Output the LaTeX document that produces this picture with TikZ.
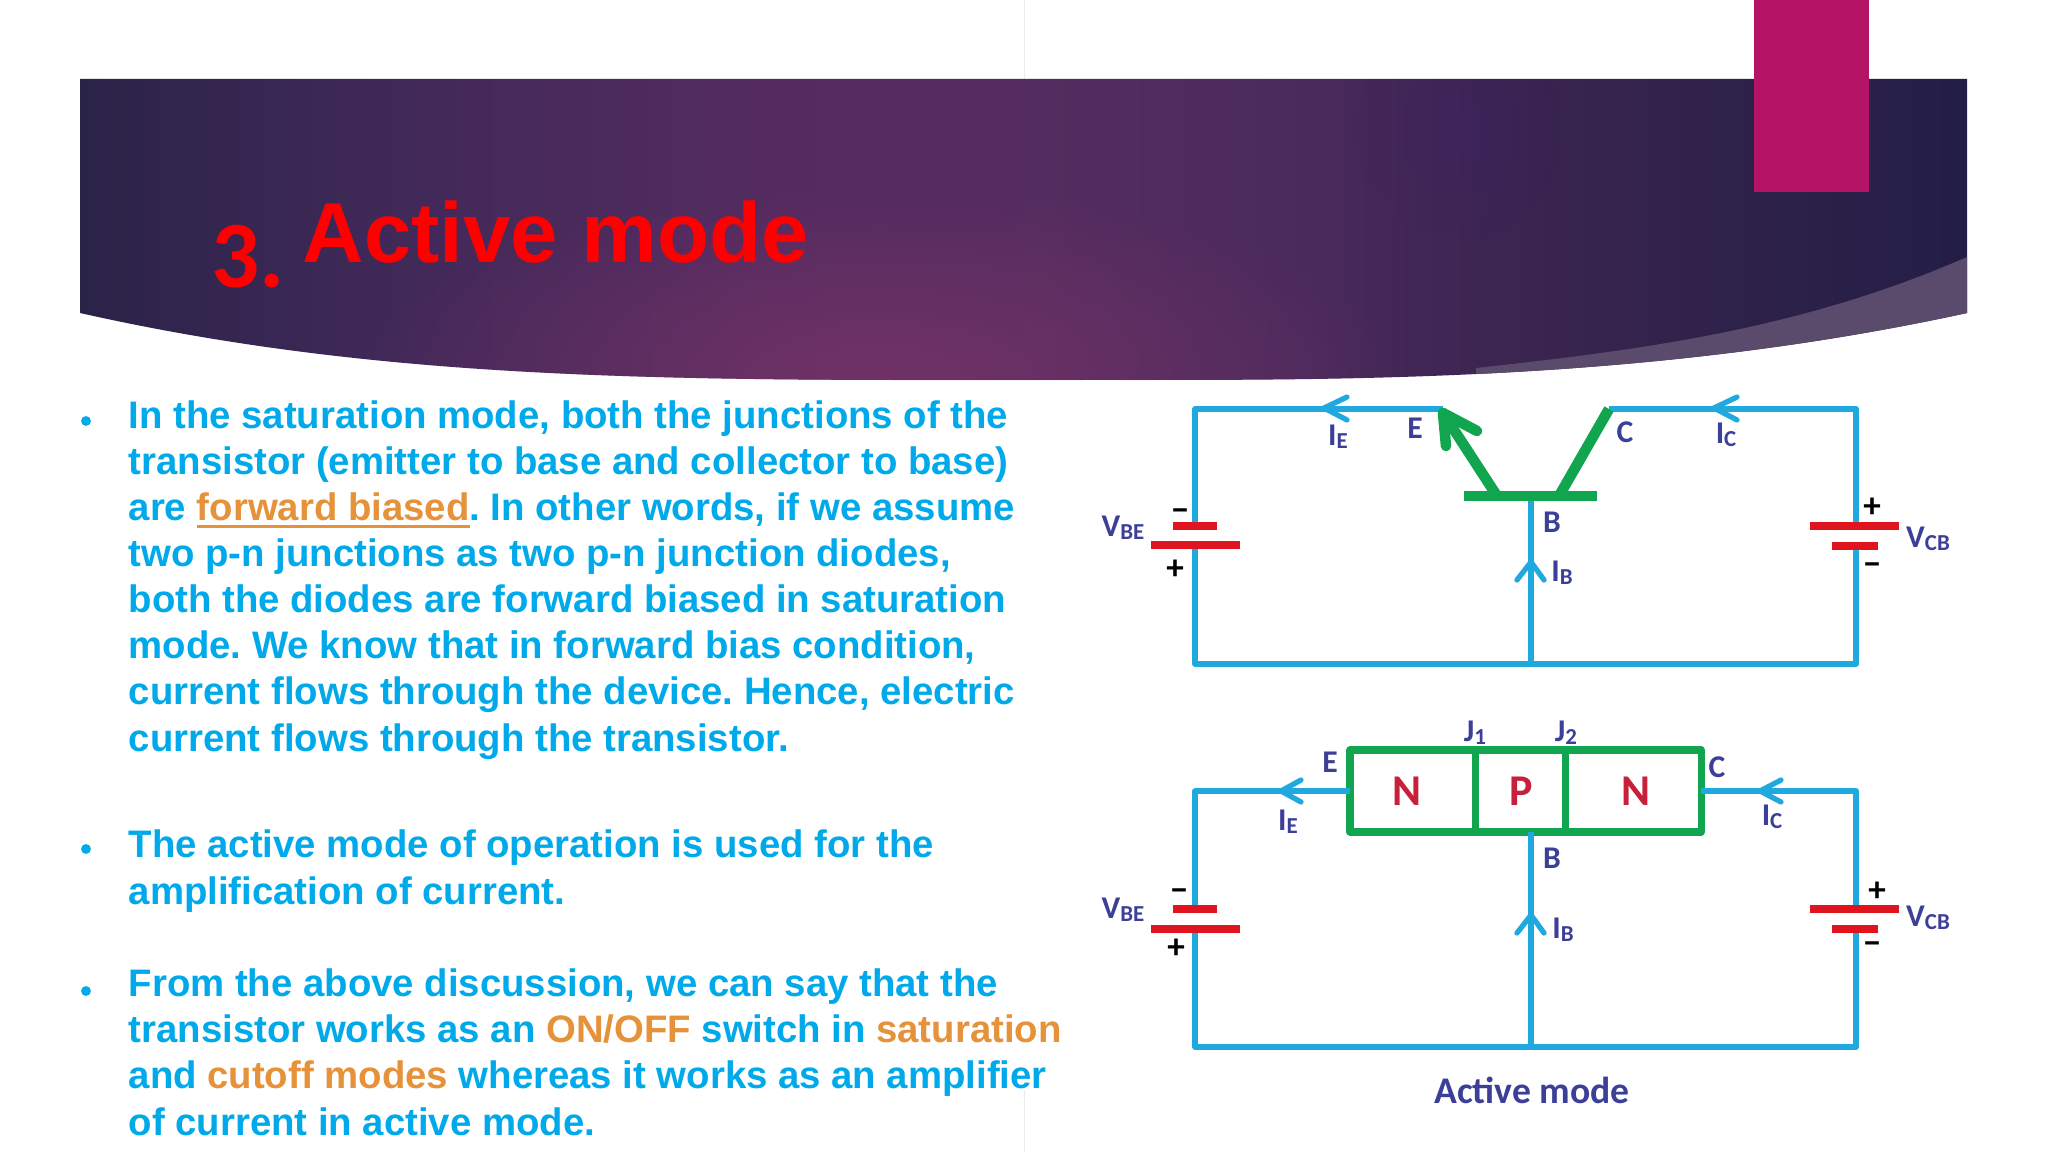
\documentclass[tikz,border=0pt]{standalone}
\usepackage{fontspec}
\setmainfont{Liberation Sans}
\newfontfamily\calfont{Carlito}
\usetikzlibrary{fadings}
\definecolor{textblue}{HTML}{00AAEA}
\definecolor{textorange}{HTML}{E6923A}
\definecolor{wireblue}{HTML}{1FA9DF}
\definecolor{tranred}{HTML}{E0141E}
\definecolor{sliced}{HTML}{C8203A}
\definecolor{trangreen}{HTML}{12A550}
\definecolor{labelblue}{HTML}{3C3F98}
\definecolor{tabpink}{HTML}{B51365}
\definecolor{wedge}{HTML}{5A4B6C}
\definecolor{spot}{HTML}{7A3468}
\newcommand{\hot}[1]{\textcolor{textorange}{#1}}
\newcommand{\hotline}[1]{\setbox0\hbox{#1}\textcolor{textorange}{\rlap{\rule[-2.2pt]{\wd0}{1pt}}\box0}}
\pgfdeclarehorizontalshading{bandshade}{100bp}{
  rgb(0bp)=(0.165,0.137,0.282);
  rgb(25bp)=(0.165,0.137,0.282);
  rgb(33bp)=(0.25,0.16,0.345);
  rgb(43.6bp)=(0.33,0.17,0.375);
  rgb(50.6bp)=(0.33,0.175,0.375);
  rgb(57.5bp)=(0.29,0.165,0.36);
  rgb(61bp)=(0.25,0.15,0.33);
  rgb(64.4bp)=(0.22,0.14,0.31);
  rgb(69.6bp)=(0.176,0.13,0.286);
  rgb(75bp)=(0.137,0.118,0.278);
  rgb(100bp)=(0.137,0.118,0.278)}
\tikzfading[name=softspot,inner color=transparent!0,outer color=transparent!100]
\tikzset{
  wire/.style={wireblue,line width=1.5pt,line join=round},
  flow/.style={wireblue,line width=1.5pt,line cap=round},
  plate/.style={tranred,line width=2.1pt},
  leg/.style={trangreen,line width=3pt},
  tag/.style={text=labelblue,font=\calfont\bfseries\fontsize{9}{9}\selectfont,inner sep=0pt},
  sign/.style={text=black,font=\calfont\bfseries\fontsize{10}{10}\selectfont,inner sep=0pt},
  slice/.style={text=sliced,font=\calfont\bfseries\fontsize{12.5}{12.5}\selectfont,inner sep=0pt},
  para/.style={anchor=base west,align=left,inner sep=0pt,text=textblue,
    font=\bfseries\fontsize{10.9}{13.1}\selectfont\frenchspacing},
  dot/.style={circle,fill=textblue,inner sep=0pt,minimum size=2.8pt}
}
\newcommand{\subtag}[2]{#1\raisebox{-0.2ex}{\fontsize{6.5}{6.5}\selectfont #2}}
\begin{document}
\begin{tikzpicture}[x=0.01cm,y=-0.01cm]
% page
\useasboundingbox (0,0) rectangle (2048,1152);
\fill[white] (0,0) rectangle (2048,1152);
\draw[gray!15,very thin] (1024,0) -- (1024,79);
\draw[gray!15,very thin] (1024,1090) -- (1024,1152);
% banner
\begin{scope}
\clip (80,79) -- (1967,79) -- (1967,313) .. controls (1650,382) and (1350,380) .. (1100,380)
  .. controls (700,380) and (400,385) .. (80,313) -- cycle;
\shade[shading=bandshade] (80,79) rectangle (1967,380);
\fill[spot,opacity=.75,path fading=softspot] (880,375) ellipse (520 and 190);
\fill[blue!60!violet,opacity=.06,path fading=softspot] (1460,130) ellipse (110 and 110);
\fill[wedge] (1967,257) .. controls (1800,330) and (1640,350) .. (1476,368)
  -- (1476,385) -- (1967,385) -- cycle;
\end{scope}
\fill[tabpink] (1754,0) rectangle (1869,192);
% title
\node (num) [anchor=base west,inner sep=0pt,text=red,font=\calfont\bfseries\fontsize{27}{27}\selectfont] at (211,288) {3.};
\node (head) [anchor=base west,inner sep=0pt,text=red,font=\bfseries\fontsize{24.2}{24.2}\selectfont] at (302,263) {Active mode};
% text
\node (first) [para] at (128,751) {In the saturation mode, both the junctions of the\\
transistor (emitter to base and collector to base)\\
are \hotline{forward biased}. In other words, if we assume\\
two p-n junctions as two p-n junction diodes,\\
both the diodes are forward biased in saturation\\
mode. We know that in forward bias condition,\\
current flows through the device. Hence, electric\\
current flows through the transistor.};
\node (second) [para] at (128,904) {The active mode of operation is used for the\\
amplification of current.};
\node (third) [para] at (128,1135) {From the above discussion, we can say that the\\
transistor works as an \hot{ON/OFF} switch in \hot{saturation}\\
and \hot{cutoff modes} whereas it works as an amplifier\\
of current in active mode.};
\node (dota) [dot] at (86,421) {};
\node (dotb) [dot] at (86,849) {};
\node (dotc) [dot] at (86,991) {};
% top circuit
\coordinate (ta) at (1443,409);
\coordinate (tb) at (1195,409);
\coordinate (tc) at (1195,526);
\coordinate (td) at (1195,545);
\coordinate (te) at (1195,664);
\coordinate (tf) at (1856,664);
\coordinate (tg) at (1856,546);
\coordinate (th) at (1856,526);
\coordinate (ti) at (1856,409);
\coordinate (tj) at (1609,409);
\coordinate (tk) at (1531,496);
\coordinate (tl) at (1531,664);
\draw[wire] (ta) -- (tb) -- (tc);
\draw[wire] (td) -- (te) -- (tf) -- (tg);
\draw[wire] (th) -- (ti) -- (tj);
\draw[wire] (tk) -- (tl);
\coordinate (barl) at (1464,496);
\coordinate (barr) at (1597,496);
\coordinate (emit) at (1497,496);
\coordinate (coll) at (1559,496);
\draw[leg] (barl) -- (barr);
\draw[leg] (emit) -- (1443,413);
\draw[leg,line cap=round] (1443,413) -- (1477,431);
\draw[leg,line cap=round] (1443,413) -- (1446,446);
\draw[leg] (coll) -- (tj);
% batteries
\draw[plate] (1173,526) -- (1217,526);
\draw[plate] (1151,545) -- (1240,545);
\draw[plate] (1810,526) -- (1899,526);
\draw[plate] (1832,546) -- (1878,546);
% arrows
\draw[flow] (1347,397) -- (1324,408) -- (1347,420);
\draw[flow] (1737,397) -- (1714,408) -- (1737,420);
\draw[flow] (1517,580) -- (1531,562) -- (1544,580);
% labels
\node (tvbe) [tag] at (1123,528) {\subtag{V}{BE}};
\node (tvcb) [tag] at (1928,539) {\subtag{V}{CB}};
\node (tie) [tag] at (1338,437) {\subtag{I}{E}};
\node (tic) [tag] at (1726,435) {\subtag{I}{C}};
\node (tib) [tag] at (1562,573) {\subtag{I}{B}};
\node (temit) [tag] at (1415,428) {E};
\node (tcoll) [tag] at (1625,432) {C};
\node (tbase) [tag] at (1552,522) {B};
\node (tm) [sign] at (1180,515) {\textminus};
\node (tp) [sign] at (1175,570) {+};
\node (tq) [sign] at (1872,508) {+};
\node (tn) [sign] at (1872,569) {\textminus};
% bottom circuit
\node (nleft) [slice] at (1407,791) {N};
\node (pmid) [slice] at (1521,791) {P};
\node (nright) [slice] at (1636,791) {N};
\coordinate (boxa) at (1350,750);
\coordinate (boxb) at (1701,832);
\draw[trangreen,line width=2pt,line join=round] (boxa) rectangle (boxb);
\draw[trangreen,line width=2pt] (1475,750) -- (1475,832);
\draw[trangreen,line width=2pt] (1565,750) -- (1565,832);
\coordinate (ba) at (1350,791);
\coordinate (bb) at (1195,791);
\coordinate (bc) at (1195,909);
\coordinate (bd) at (1195,929);
\coordinate (be) at (1195,1047);
\coordinate (bf) at (1856,1047);
\coordinate (bg) at (1856,929);
\coordinate (bh) at (1856,909);
\coordinate (bi) at (1856,791);
\coordinate (bj) at (1701,791);
\coordinate (bk) at (1531,832);
\coordinate (bl) at (1531,1047);
\draw[wire] (ba) -- (bb) -- (bc);
\draw[wire] (bd) -- (be) -- (bf) -- (bg);
\draw[wire] (bh) -- (bi) -- (bj);
\draw[wire] (bk) -- (bl);
\draw[plate] (1173,909) -- (1217,909);
\draw[plate] (1151,929) -- (1240,929);
\draw[plate] (1810,909) -- (1899,909);
\draw[plate] (1832,929) -- (1878,929);
\draw[flow] (1301,780) -- (1281,791) -- (1301,802);
\draw[flow] (1781,780) -- (1760,791) -- (1781,802);
\draw[flow] (1517,933) -- (1531,915) -- (1544,933);
\node (bvbe) [tag] at (1123,910) {\subtag{V}{BE}};
\node (bvcb) [tag] at (1928,918) {\subtag{V}{CB}};
\node (bie) [tag] at (1288,822) {\subtag{I}{E}};
\node (bic) [tag] at (1772,817) {\subtag{I}{C}};
\node (bib) [tag] at (1563,930) {\subtag{I}{B}};
\node (bemit) [tag] at (1330,762) {E};
\node (bcoll) [tag] at (1717,767) {C};
\node (bbase) [tag] at (1552,858) {B};
\node (jone) [tag] at (1475,733) {\subtag{J}{1}};
\node (jtwo) [tag] at (1566,733) {\subtag{J}{2}};
\node (bm) [sign] at (1179,895) {\textminus};
\node (bp) [sign] at (1176,949) {+};
\node (bq) [sign] at (1877,892) {+};
\node (bn) [sign] at (1872,948) {\textminus};
\node (caption) [tag,font=\calfont\bfseries\fontsize{10.7}{10.7}\selectfont] at (1532,1090) {Active mode};
\end{tikzpicture}
\end{document}
